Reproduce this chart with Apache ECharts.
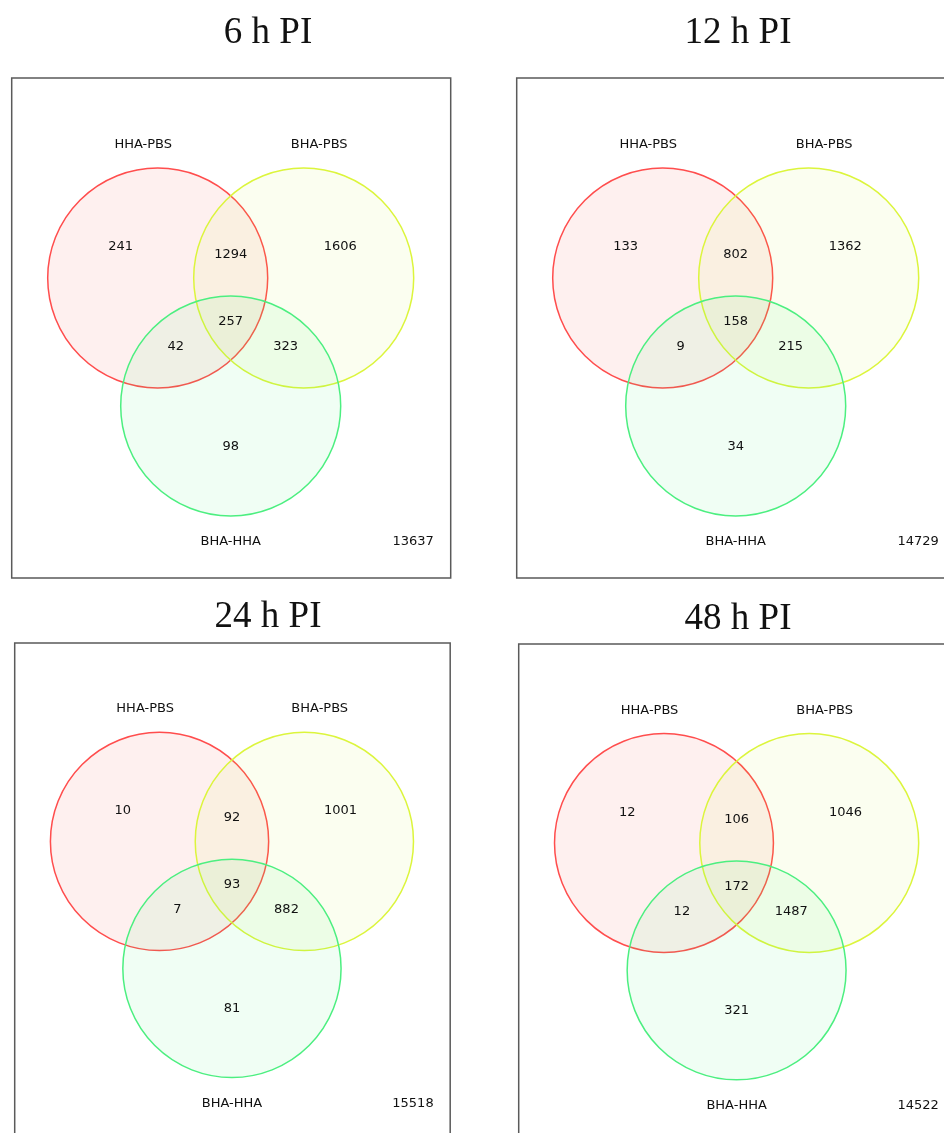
<!DOCTYPE html>
<html>
<head>
<meta charset="utf-8">
<script src="https://cdn.jsdelivr.net/npm/echarts@6/dist/echarts.min.js"></script>
<style>
  html, body { margin: 0; padding: 0; background: #fff; }
  #main { width: 944px; height: 1133px; }
</style>
</head>
<body>
<div id="main"></div>
<script>
// ---- data ----
var panelTitles = ['6 h PI', '12 h PI', '24 h PI', '48 h PI'];
var setNames = ['HHA-PBS', 'BHA-PBS', 'BHA-HHA'];
// region order: HHA-PBS only, HHA∩BHA-PBS, BHA-PBS only, all three, HHA∩BHA-HHA, BHA-PBS∩BHA-HHA, BHA-HHA only
var counts6h = [241, 1294, 1606, 257, 42, 323, 98];
var counts12h = [133, 802, 1362, 158, 9, 215, 34];
var counts24h = [10, 92, 1001, 93, 7, 882, 81];
var counts48h = [12, 106, 1046, 172, 12, 1487, 321];
var outsideCounts = [13637, 14729, 15518, 14522];

// ---- layout (box-local units, y down) ----
var W = 944, H = 1133;
var BOX_W = 439, BOX_H = 500, R = 110;
var panelBox = [[11.7, 78], [516.7, 78], [14.7, 643], [518.7, 644]];
var panelScale = [1, 1, 0.992, 0.995];
var titlePos = [[268, 33], [738, 33], [268, 617], [738, 619]];
var circlePos = [[146, 200], [292, 200], [219, 328]];
var setLabelPos = [[131.5, 66.5], [307.5, 66.5], [219, 464]];
var regionPos = [[109, 169], [219, 176.5], [328.5, 169], [219, 243.5], [164, 268.5], [274, 268.5], [219, 368.5]];
var outsidePos = [401.5, 464];

var circleFill = ['rgba(245,90,80,0.09)', 'rgba(200,240,40,0.07)', 'rgba(60,240,120,0.08)'];
var circleStroke = ['#ff4d4d', '#dcf53c', '#4cef80'];
var smallFont = '13px "DejaVu Sans"';

var allCounts = [counts6h, counts12h, counts24h, counts48h];

var chart = echarts.init(document.getElementById('main'));

var grids = [], xAxes = [], yAxes = [], series = [], graphics = [];

allCounts.forEach(function (counts, p) {
  var s = panelScale[p];
  var left = panelBox[p][0], top = panelBox[p][1];
  // echarts keeps a grid inside the page, so the boxes that run off the
  // edge get a shorter axis instead (same px per unit)
  var gw = Math.min(BOX_W * s, W - left);
  var gh = Math.min(BOX_H * s, H - top);
  grids.push({ left: left, top: top, width: gw, height: gh, show: false });
  xAxes.push({ gridIndex: p, type: 'value', min: 0, max: gw / s, show: false });
  yAxes.push({ gridIndex: p, type: 'value', min: 0, max: gh / s, inverse: true, show: false });

  // frame
  series.push({
    type: 'custom', xAxisIndex: p, yAxisIndex: p, silent: true, clip: false,
    data: [[0, 0, BOX_W, BOX_H]],
    renderItem: function (params, api) {
      var a = api.coord([api.value(0), api.value(1)]);
      var b = api.coord([api.value(2), api.value(3)]);
      return {
        type: 'rect',
        shape: { x: a[0], y: a[1], width: b[0] - a[0], height: b[1] - a[1] },
        style: { fill: 'none', stroke: '#5a5a5a', lineWidth: 1.5 }
      };
    }
  });

  // circles
  series.push({
    type: 'custom', xAxisIndex: p, yAxisIndex: p, silent: true, clip: false,
    data: circlePos.map(function (c, i) { return [c[0], c[1], i]; }),
    renderItem: function (params, api) {
      var c = api.coord([api.value(0), api.value(1)]);
      var r = api.size([R, R])[0];
      var i = api.value(2);
      return {
        type: 'circle',
        shape: { cx: c[0], cy: c[1], r: r },
        style: { fill: circleFill[i], stroke: circleStroke[i], lineWidth: 1.5 }
      };
    }
  });

  // texts: region counts, set names, outside count
  var texts = counts.map(String).concat(setNames).concat([String(outsideCounts[p])]);
  var pos = regionPos.concat(setLabelPos).concat([outsidePos]);
  series.push({
    type: 'custom', xAxisIndex: p, yAxisIndex: p, silent: true, clip: false,
    data: pos.map(function (q) { return [q[0], q[1]]; }),
    renderItem: function (params, api) {
      var c = api.coord([api.value(0), api.value(1)]);
      return {
        type: 'text', x: c[0], y: c[1],
        style: {
          text: texts[params.dataIndex], font: smallFont, fill: '#111',
          align: 'center', verticalAlign: 'middle',
          textAlign: 'center', textVerticalAlign: 'middle'
        }
      };
    }
  });

  graphics.push({
    type: 'text', x: titlePos[p][0], y: titlePos[p][1], silent: true,
    style: {
      text: panelTitles[p], font: '37px "Liberation Serif"', fill: '#111',
      align: 'center', verticalAlign: 'middle',
      textAlign: 'center', textVerticalAlign: 'middle'
    }
  });
});

chart.setOption({
  animation: false,
  backgroundColor: '#fff',
  grid: grids,
  xAxis: xAxes,
  yAxis: yAxes,
  series: series,
  graphic: graphics
});
</script>
</body>
</html>
